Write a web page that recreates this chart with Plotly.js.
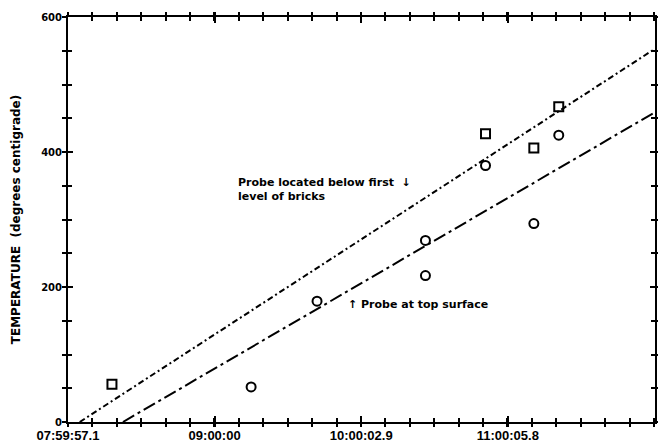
<!DOCTYPE html>
<html>
<head>
<meta charset="utf-8">
<script src="https://cdn.plot.ly/plotly-3.0.1.min.js"></script>
<style>html,body{margin:0;padding:0;background:#fff;}#chart{width:658px;height:443px;}</style>
</head>
<body>
<div id="chart"></div>
<script>
// Hours elapsed since 07:59:57.1
const tickHours = [0, 1.0008, 2.0016, 3.0024];
const tickLabels = ["07:59:57.1", "09:00:00", "10:00:02.9", "11:00:05.8"];
const yTickVals = [0, 200, 400, 600];

// Probe located below first level of bricks (squares)
const squareHours = [0.30, 2.85, 3.18, 3.35];
const squareTemps = [56, 427, 406, 467];

// Probe at top surface (circles)
const circleHours = [1.25, 1.70, 2.44, 2.44, 2.85, 3.18, 3.35];
const circleTemps = [52, 179, 269, 217, 380, 294, 425];

// Fitted lines
const upperLineHours = [0.08, 4.0];
const upperLineTemps = [0, 552];
const lowerLineHours = [0.375, 4.0];
const lowerLineTemps = [0, 458];

const sansBold = '"DejaVu Sans", sans-serif';
const narrow = '"Liberation Sans Narrow", "Liberation Sans", Arial, sans-serif';

const traces = [
  {x: upperLineHours, y: upperLineTemps, mode: 'lines', line: {color: '#000', width: 2, dash: '6px,3px,2px,3px'}, hoverinfo: 'skip'},
  {x: lowerLineHours, y: lowerLineTemps, mode: 'lines', line: {color: '#000', width: 2, dash: '13px,4px,3px,4px'}, hoverinfo: 'skip'},
  {x: squareHours, y: squareTemps, mode: 'markers', marker: {symbol: 'square-open', size: 9, color: '#000', line: {width: 2, color: '#000'}}},
  {x: circleHours, y: circleTemps, mode: 'markers', marker: {symbol: 'circle-open', size: 9, color: '#000', line: {width: 2, color: '#000'}}},
  {x: [0], y: [0], xaxis: 'x2', yaxis: 'y2', mode: 'markers', marker: {opacity: 0}, hoverinfo: 'skip'}
];

const xRange = [0, 4.007];
const yRange = [0, 600];

const layout = {
  width: 658, height: 443,
  margin: {l: 68, r: 3, t: 17, b: 21},
  paper_bgcolor: '#fff', plot_bgcolor: '#fff',
  showlegend: false,
  font: {family: sansBold, color: '#000', size: 11, weight: 'bold'},
  xaxis: {
    range: xRange, showgrid: false, zeroline: false,
    showline: true, linecolor: '#000', linewidth: 2, mirror: 'allticks',
    tickmode: 'array', tickvals: tickHours, ticktext: tickLabels,
    ticks: 'outside', ticklen: 3, tickwidth: 2, tickcolor: '#000',
    ticklabelstandoff: -3,
    tickfont: {family: narrow, size: 13, weight: 'bold'},
    minor: {tick0: 0, dtick: 1/6, ticks: 'outside', ticklen: 3, tickwidth: 2, tickcolor: '#000'}
  },
  yaxis: {
    range: yRange, showgrid: false, zeroline: false,
    showline: true, linecolor: '#000', linewidth: 2, mirror: 'allticks',
    tickmode: 'array', tickvals: yTickVals, ticktext: yTickVals.map(String),
    ticks: 'outside', ticklen: 4, tickwidth: 2, tickcolor: '#000',
    ticklabelstandoff: -2,
    tickfont: {family: sansBold, size: 10, weight: 'bold'},
    minor: {tick0: 0, dtick: 50, ticks: 'outside', ticklen: 4, tickwidth: 2, tickcolor: '#000'},
    title: {text: 'TEMPERATURE  (degrees centigrade)', font: {family: sansBold, size: 12, weight: 'bold'}, standoff: 18}
  },
  xaxis2: {
    range: xRange, overlaying: 'x', showgrid: false, zeroline: false, showline: false,
    showticklabels: false, mirror: 'allticks',
    tickmode: 'array', tickvals: tickHours,
    ticks: 'inside', ticklen: 6, tickwidth: 2, tickcolor: '#000',
    minor: {tick0: 0, dtick: 1/6, ticks: 'inside', ticklen: 4, tickwidth: 2, tickcolor: '#000'}
  },
  yaxis2: {
    range: yRange, overlaying: 'y', showgrid: false, zeroline: false, showline: false,
    showticklabels: false, mirror: 'allticks',
    tickmode: 'array', tickvals: yTickVals,
    ticks: 'inside', ticklen: 5, tickwidth: 2, tickcolor: '#000',
    minor: {tick0: 0, dtick: 50, ticks: 'inside', ticklen: 4, tickwidth: 2, tickcolor: '#000'}
  },
  annotations: [
    {x: 1.15, y: 344, xref: 'x', yref: 'y', xanchor: 'left', yanchor: 'middle', align: 'left', showarrow: false,
     text: 'Probe located below first  \u2193<br>level of bricks', font: {family: sansBold, size: 11, weight: 'bold'}},
    {x: 1.90, y: 174, xref: 'x', yref: 'y', xanchor: 'left', yanchor: 'middle', align: 'left', showarrow: false,
     text: '\u2191 Probe at top surface', font: {family: sansBold, size: 11, weight: 'bold'}}
  ]
};

Plotly.newPlot('chart', traces, layout, {displayModeBar: false, staticPlot: true});
</script>
</body>
</html>
